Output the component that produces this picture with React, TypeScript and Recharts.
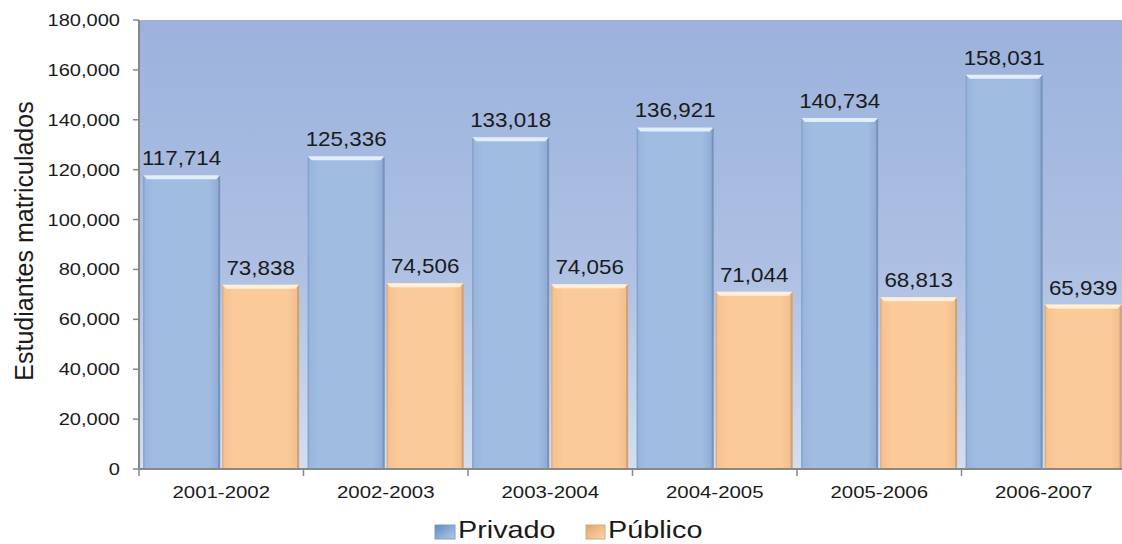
import { BarChart, Bar, XAxis, YAxis, CartesianGrid, LabelList } from "recharts"

const periods = ["2001-2002", "2002-2003", "2003-2004", "2004-2005", "2005-2006", "2006-2007"]
const privado = [117714, 125336, 133018, 136921, 140734, 158031]
const publico = [73838, 74506, 74056, 71044, 68813, 65939]
const yTicks = [0, 20000, 40000, 60000, 80000, 100000, 120000, 140000, 160000, 180000]

const data = periods.map((p, i) => ({ period: p, privado: privado[i], publico: publico[i] }))

const FONT = "'Liberation Sans', Arial, sans-serif"
const INK = "#1a1a1a"
const fmt = (v: number) => v.toLocaleString("en-US")

// the source picture is stretched sideways, so text gets a horizontal scale
const Wide = ({ x, y, sx, size, anchor, children }: any) => (
  <text
    transform={`translate(${x},${y}) scale(${sx},1)`}
    textAnchor={anchor}
    fontSize={size}
    fontFamily={FONT}
    fill={INK}
  >
    {children}
  </text>
)

const BevelBar = (color: "blue" | "orange") => (props: any) => {
  const { x, y, width, height } = props
  if (!height || height <= 0) return null
  const edge = color === "blue" ? "#6f8db8" : "#c79a6c"
  const hi = color === "blue" ? "#e4eefa" : "#fff0de"
  return (
    <g>
      <rect x={x} y={y} width={width} height={height} fill={`url(#${color}Body)`} />
      <rect x={x + width - 2} y={y} width={2} height={height} fill={edge} opacity={0.8} />
      <rect x={x} y={y} width={1.5} height={height} fill={edge} opacity={0.45} />
      <polygon
        points={`${x},${y} ${x + width},${y} ${x + width - 4},${y + 4} ${x + 4},${y + 4}`}
        fill={hi}
      />
    </g>
  )
}

const XTick = (props: any) => {
  const { x, payload } = props
  const off = payload?.offset ?? 82
  return (
    <g>
      <line x1={x - off} x2={x - off} y1={469} y2={476} stroke="#888" strokeWidth={1.5} />
      <Wide x={x} y={498} sx={1.2} size={17} anchor="middle">{payload.value}</Wide>
    </g>
  )
}

const YTick = (props: any) => {
  const { x, y, payload } = props
  return <Wide x={x} y={y + 6} sx={1.18} size={17} anchor="end">{fmt(payload.value)}</Wide>
}

const ValueLabel = (props: any) => {
  const { x, y, width, value } = props
  return <Wide x={x + width / 2} y={y - 10} sx={1.12} size={20} anchor="middle">{fmt(Number(value))}</Wide>
}

export default function App() {
  return (
    <div style={{ position: "absolute", left: 0, top: 0, width: 1122, height: 544, background: "#fff", overflow: "hidden" }}>
      <svg width={0} height={0} style={{ position: "absolute" }}>
        <defs>
          <linearGradient id="plotBg" x1="0" y1="0" x2="0" y2="1">
            <stop offset="0%" stopColor="#9cb2dc" />
            <stop offset="55%" stopColor="#adc0e3" />
            <stop offset="100%" stopColor="#d3deef" />
          </linearGradient>
          <linearGradient id="blueBody" x1="0" y1="0" x2="1" y2="0">
            <stop offset="0%" stopColor="#97b4dc" />
            <stop offset="15%" stopColor="#a0bce1" />
            <stop offset="85%" stopColor="#a0bce1" />
            <stop offset="100%" stopColor="#8eaad2" />
          </linearGradient>
          <linearGradient id="orangeBody" x1="0" y1="0" x2="1" y2="0">
            <stop offset="0%" stopColor="#f3c090" />
            <stop offset="15%" stopColor="#fbca99" />
            <stop offset="85%" stopColor="#fbca99" />
            <stop offset="100%" stopColor="#efbd8d" />
          </linearGradient>
          <linearGradient id="blueIcon" x1="0" y1="0" x2="1" y2="1">
            <stop offset="0%" stopColor="#5f88c2" />
            <stop offset="100%" stopColor="#b4cbe9" />
          </linearGradient>
          <linearGradient id="orangeIcon" x1="0" y1="0" x2="1" y2="1">
            <stop offset="0%" stopColor="#e2a467" />
            <stop offset="100%" stopColor="#fdd6ae" />
          </linearGradient>
        </defs>
      </svg>
      <BarChart
        width={1126}
        height={544}
        data={data}
        margin={{ top: 20, right: 0, left: 0, bottom: 0 }}
        barCategoryGap="2.5%"
        barGap={2}
        style={{ fontFamily: FONT }}
      >
        <CartesianGrid horizontal={false} vertical={false} fill="url(#plotBg)" />
        <XAxis
          dataKey="period"
          height={75}
          tickLine={false}
          axisLine={{ stroke: "#888", strokeWidth: 2 }}
          tick={<XTick />}
          interval={0}
        />
        <YAxis
          width={139}
          domain={[0, 180000]}
          ticks={yTicks}
          tickSize={6}
          tickMargin={13}
          tickLine={{ stroke: "#888", strokeWidth: 1.5 }}
          axisLine={{ stroke: "#888", strokeWidth: 2 }}
          tick={<YTick />}
          label={{
            content: () => (
              <text
                transform="translate(33,241) rotate(-90)"
                textAnchor="middle"
                fontSize={25}
                fontFamily={FONT}
                fill={INK}
              >
                Estudiantes matriculados
              </text>
            ),
          }}
        />
        <Bar dataKey="privado" shape={BevelBar("blue")} isAnimationActive={false}>
          <LabelList dataKey="privado" content={<ValueLabel />} />
        </Bar>
        <Bar dataKey="publico" shape={BevelBar("orange")} isAnimationActive={false}>
          <LabelList dataKey="publico" content={<ValueLabel />} />
        </Bar>
      </BarChart>
      <svg width={1122} height={44} style={{ position: "absolute", left: 0, top: 500 }}>
        <rect x={435} y={25} width={20} height={14} fill="url(#blueIcon)" stroke="#7f9cc4" />
        <Wide x={458} y={38} sx={1.2} size={24} anchor="start">Privado</Wide>
        <rect x={586} y={25} width={19} height={14} fill="url(#orangeIcon)" stroke="#d8aa7c" />
        <Wide x={608} y={38} sx={1.2} size={24} anchor="start">Público</Wide>
      </svg>
    </div>
  )
}
